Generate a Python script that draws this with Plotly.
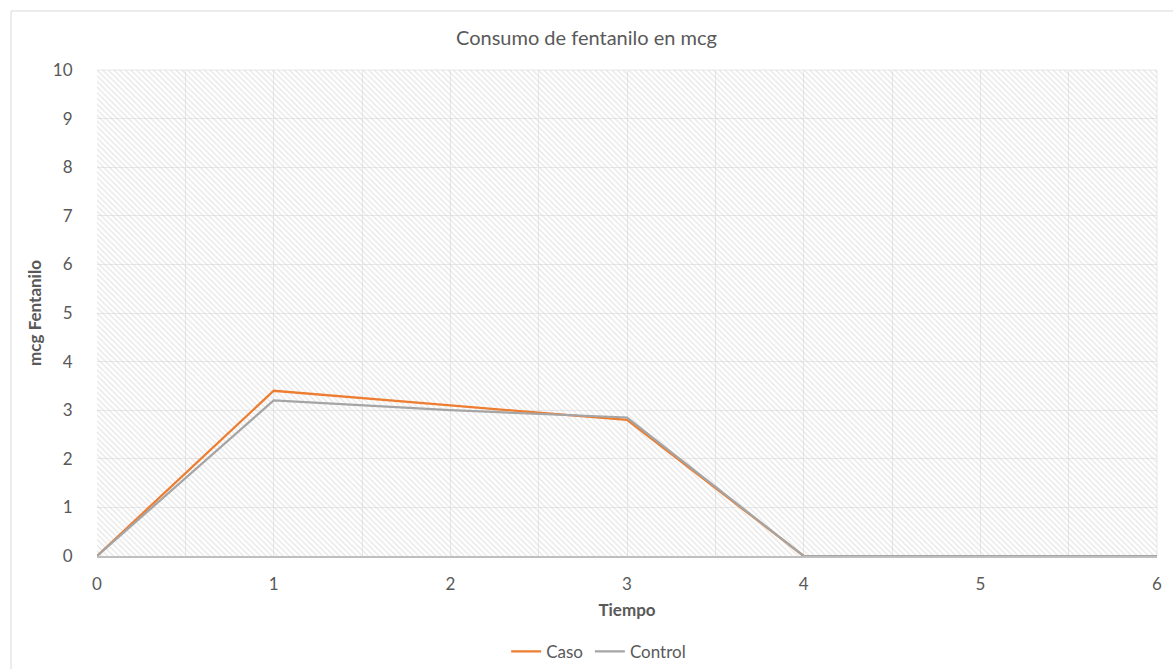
import plotly.graph_objects as go

# Tiempo (h) y consumo de fentanilo (mcg) por grupo
tiempo = [0, 1, 2, 3, 4, 5, 6]
caso = [0, 3.4, 3.1, 2.8, 0, 0, 0]
control = [0, 3.2, 3.0, 2.85, 0, 0, 0]

x_range = [0, 6]
y_range = [0, 10]

TEXT = "#595959"
GRID = "#e8e8e8"
FONT = "Lato, Open Sans, sans-serif"

fig = go.Figure()

# Fondo rayado del área de trazado (transparente para dejar ver la cuadrícula)
fig.add_trace(go.Scatter(
    x=[x_range[0], x_range[1], x_range[1], x_range[0], x_range[0]],
    y=[y_range[0], y_range[0], y_range[1], y_range[1], y_range[0]],
    mode="none", fill="toself", fillcolor="rgba(0,0,0,0)",
    fillpattern=dict(shape="\\", fgcolor="#d0d0d0", bgcolor="rgba(0,0,0,0)",
                     size=4, solidity=0.35),
    hoverinfo="skip", showlegend=False,
))

fig.add_trace(go.Scatter(x=tiempo, y=caso, name="Caso", mode="lines",
                         line=dict(color="#ED7D31", width=2.25),
                         legend="legend"))
fig.add_trace(go.Scatter(x=tiempo, y=control, name="Control", mode="lines",
                         line=dict(color="#A5A5A5", width=2.25),
                         legend="legend2"))

legend_style = dict(orientation="h", y=-0.16, yanchor="top", xanchor="left",
                    font=dict(size=17, color=TEXT), itemwidth=30)

fig.update_layout(
    width=1173, height=669,
    margin=dict(l=97, r=16, t=70, b=113, autoexpand=False),
    paper_bgcolor="white", plot_bgcolor="white",
    font=dict(family=FONT, size=14, color=TEXT),
    title=dict(text="Consumo de fentanilo en mcg", x=0.5, xanchor="center",
               y=0.943, yanchor="middle", font=dict(size=20, color=TEXT)),
    legend=dict(x=0.386, **legend_style),
    legend2=dict(x=0.465, **legend_style),
    showlegend=True,
    shapes=[
        # marco del gráfico
        dict(type="rect", xref="paper", yref="paper",
             x0=-0.0811, x1=1.2, y0=-0.4, y1=1.1214,
             line=dict(color="#d9d9d9", width=1), layer="below"),
        # borde superior y derecho del área de trazado
        dict(type="line", xref="paper", yref="paper", x0=0, x1=1, y0=1, y1=1,
             line=dict(color=GRID, width=1), layer="below"),
        dict(type="line", xref="paper", yref="paper", x0=1, x1=1, y0=0, y1=1,
             line=dict(color=GRID, width=1), layer="below"),
    ],
)

fig.update_xaxes(
    range=x_range, dtick=1, tick0=0,
    showgrid=True, gridcolor=GRID, gridwidth=1,
    minor=dict(dtick=0.5, showgrid=True, gridcolor=GRID, gridwidth=1),
    zeroline=False, showline=True, linecolor="#bfbfbf", linewidth=1.5,
    ticks="outside", ticklen=12, tickcolor="rgba(0,0,0,0)",
    tickfont=dict(size=17, color=TEXT),
    title=dict(text="<b>Tiempo</b>", font=dict(size=17, color=TEXT), standoff=11),
)
fig.update_yaxes(
    range=y_range, dtick=1, tick0=0,
    showgrid=True, gridcolor=GRID, gridwidth=1,
    zeroline=False, showline=False,
    ticks="outside", ticklen=20, tickcolor="rgba(0,0,0,0)",
    tickfont=dict(size=17, color=TEXT),
    title=dict(text="<b>mcg Fentanilo</b>", font=dict(size=17, color=TEXT), standoff=6),
)

fig.write_html("out.html")
